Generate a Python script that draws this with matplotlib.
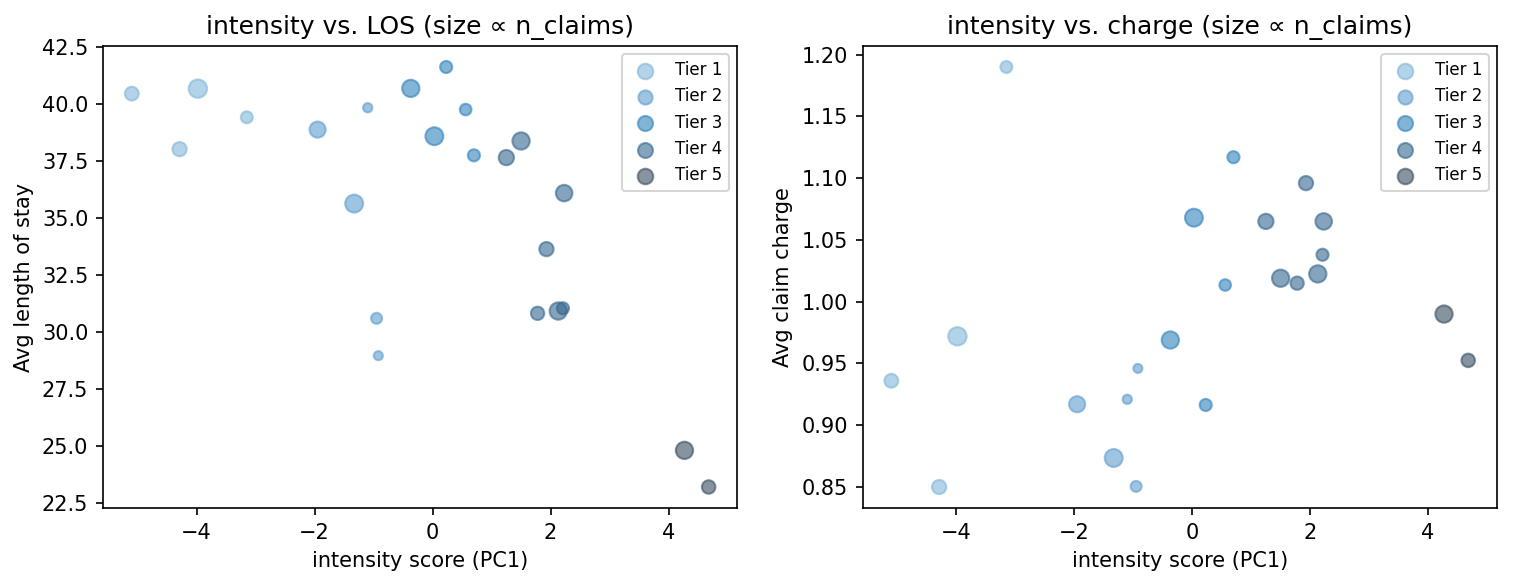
import matplotlib
matplotlib.use("Agg")
import matplotlib.pyplot as plt
import numpy as np

# per-provider values
intensity = [-5.10, -3.98, -3.15, -4.29,
             -1.95, -1.10, -1.33, -0.95, -0.92,
             -0.37, 0.23, 0.56, 0.03, 0.70,
             1.25, 1.50, 2.23, 1.93, 1.78, 2.13, 2.21,
             4.27, 4.68]
avg_los = [40.47, 40.69, 39.43, 38.03,
           38.89, 39.85, 35.64, 30.60, 28.96,
           40.70, 41.64, 39.77, 38.60, 37.76,
           37.66, 38.39, 36.10, 33.64, 30.82, 30.92, 31.04,
           24.80, 23.19]
avg_charge = [0.936, 0.972, 1.190, 0.850,
              0.917, 0.921, 0.8735, 0.8505, 0.946,
              0.969, 0.9164, 1.0135, 1.068, 1.117,
              1.065, 1.019, 1.065, 1.096, 1.015, 1.0225, 1.038,
              0.990, 0.9525]
tier = [1, 1, 1, 1,
        2, 2, 2, 2, 2,
        3, 3, 3, 3, 3,
        4, 4, 4, 4, 4, 4, 4,
        5, 5]
n_claims = [44, 78, 33, 47,
            60, 20, 74, 28, 19,
            69, 34, 31, 74, 34,
            54, 69, 63, 47, 41, 69, 34,
            69, 42]

tier_names = ["Tier 1", "Tier 2", "Tier 3", "Tier 4", "Tier 5"]
tier_colors = ["#80b6d9", "#5d9dcf", "#2f82bc", "#34668f", "#374d61"]

x = np.array(intensity)
t = np.array(tier)
s = np.array(n_claims, dtype=float)

fig, axes = plt.subplots(1, 2, figsize=(1514 / 150, 586 / 150), dpi=150)
fig.subplots_adjust(left=0.068, right=0.9888, top=0.9215, bottom=0.1331, wspace=0.197)

panels = [
    (np.array(avg_los), "Avg length of stay", "intensity vs. LOS (size \u221d n_claims)"),
    (np.array(avg_charge), "Avg claim charge", "intensity vs. charge (size \u221d n_claims)"),
]

for ax, (y, ylab, title) in zip(axes, panels):
    for k, name in enumerate(tier_names):
        m = t == k + 1
        ax.scatter(x[m], y[m], s=s[m], color=tier_colors[k], alpha=0.6, label=name)
    ax.set_xlabel("intensity score (PC1)")
    ax.set_ylabel(ylab)
    ax.set_title(title)
    ax.legend(loc="upper right", fontsize=8)

fig.savefig("out.png", dpi=150)
